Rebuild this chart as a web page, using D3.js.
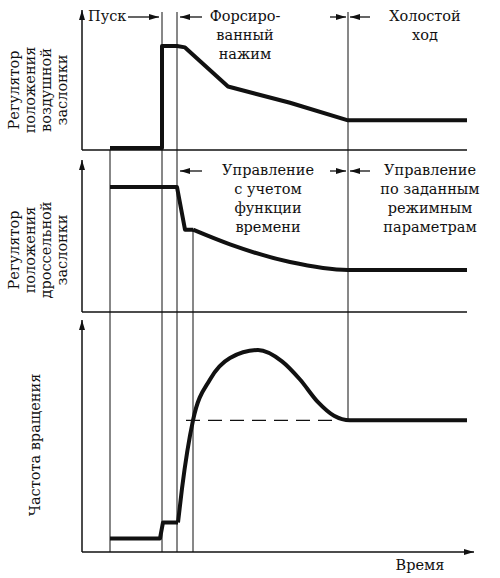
<!DOCTYPE html><html><head><meta charset="utf-8"><script src="https://cdn.jsdelivr.net/npm/d3@7"></script>
<style>body{margin:0;background:#fff}text{font-family:"DejaVu Serif","Liberation Serif",serif;font-size:14.5px;fill:#111}</style></head><body>
<script>
const airT=[28,80,80,95,103,146,208,266,385];
const airV=[1.5,1.5,77,77,76,47,35,22,22];
const thrT=[28,95,103,111,148,208,266,385];
const thrV=[85,85,56,56,46,34,28.6,28.6];
const rpmT=[28,78,81,96,100,111,128,148,176,200,218,236,252,268,385];
const rpmV=[6,6,13,13,28,58,76,85.5,89,84,76,66,60,58,58];
const rpmSteady=58;
const phases=[28,80,95,111,266];
const W=500,H=578;
const svg=d3.select("body").append("svg").attr("width",W).attr("height",H);
const defs=svg.append("defs");
defs.append("marker").attr("id","ar").attr("viewBox","0 0 10 6").attr("refX",10).attr("refY",3).attr("markerWidth",10).attr("markerHeight",6).attr("orient","auto-start-reverse").attr("markerUnits","userSpaceOnUse").append("path").attr("d","M0,0L10,3L0,6Z").attr("fill","#111");
const x=d3.scaleLinear().domain([0,390]).range([82,472]);
const panels=[{y0:150,y1:15,top:10},{y0:312,y1:165,top:160},{y0:552,y1:325,top:320}];
const ys=panels.map(p=>d3.scaleLinear().domain([0,100]).range([p.y0,p.y1]));
panels.forEach((p,i)=>{
 svg.append("line").attr("x1",x(0)).attr("x2",x(0)).attr("y1",p.y0).attr("y2",p.top).attr("stroke","#111").attr("stroke-width",1.5).attr("marker-end","url(#ar)");
 svg.append("line").attr("x1",x(0)).attr("x2",i==2?x(392):x(385)).attr("y1",p.y0).attr("y2",p.y0).attr("stroke","#111").attr("stroke-width",1.3).attr("marker-end",i==2?"url(#ar)":null);
});
const vl=[[phases[0],150,552],[phases[1],12,552],[phases[2],12,552],[111,230,552],[phases[4],12,420]];
vl.forEach(v=>svg.append("line").attr("x1",x(v[0])).attr("x2",x(v[0])).attr("y1",v[1]).attr("y2",v[2]).attr("stroke","#111").attr("stroke-width",1));
const draw=(T,V,s,curve)=>svg.append("path").attr("d",d3.line().x((d,i)=>x(T[i])).y(d=>s(d)).curve(curve)(V)).attr("fill","none").attr("stroke","#111").attr("stroke-width",4).attr("stroke-linejoin","round");
draw(airT,airV,ys[0],d3.curveLinear);
draw(thrT.slice(0,4),thrV.slice(0,4),ys[1],d3.curveLinear);
draw(thrT.slice(3),thrV.slice(3),ys[1],d3.curveMonotoneX);
draw(rpmT.slice(0,4),rpmV.slice(0,4),ys[2],d3.curveLinear);
draw(rpmT.slice(3),rpmV.slice(3),ys[2],d3.curveMonotoneX);
svg.append("line").attr("x1",x(104)).attr("x2",x(255)).attr("y1",ys[2](rpmSteady)).attr("y2",ys[2](rpmSteady)).attr("stroke","#111").attr("stroke-width",1.2).attr("stroke-dasharray","14,8");
const txt=(s,tx,ty,anchor="middle",rot=0)=>svg.append("text").attr("transform",`translate(${tx},${ty}) rotate(${rot})`).attr("text-anchor",anchor).text(s);
const arr=(x1,x2,y)=>svg.append("line").attr("x1",x1).attr("x2",x2).attr("y1",y).attr("y2",y).attr("stroke","#111").attr("stroke-width",1.3).attr("marker-end","url(#ar)");
txt("Пуск",88,21,"start");arr(128,159,17);
arr(202,180,17);arr(370,350,17);arr(330,346,17);
["Форсиро-","ванный","нажим"].forEach((s,i)=>txt(s,245,21+i*19));
["Холостой","ход"].forEach((s,i)=>txt(s,425,21+i*19));
arr(202,180,171);arr(370,350,171);arr(330,346,171);
["Управление","с учетом","функции","времени"].forEach((s,i)=>txt(s,268,175+i*19));
["Управление","по заданным","режимным","параметрам"].forEach((s,i)=>txt(s,430,175+i*19));
["Регулятор","положения","воздушной","заслонки"].forEach((s,i)=>txt(s,19+i*16,90,"middle",-90));
["Регулятор","положения","дроссельной","заслонки"].forEach((s,i)=>txt(s,19+i*16,250,"middle",-90));
txt("Частота вращения",40,445,"middle",-90);
txt("Время",420,570,"middle");
</script></body></html>
